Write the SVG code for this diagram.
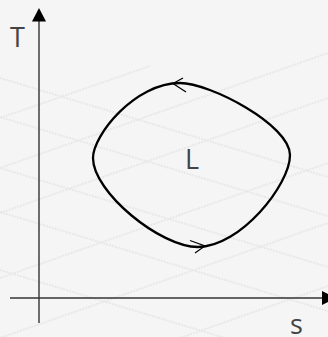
<svg xmlns="http://www.w3.org/2000/svg" width="328" height="337" viewBox="0 0 328 337">
<defs>
<style>
.bg{fill:#f5f5f5}
.grid line{stroke:#e8e8e8;stroke-width:2;stroke-dasharray:2 1}
.axis{stroke:#333;stroke-width:1.4;fill:none}
.head{fill:#000}
.loop{stroke:#000;stroke-width:2.3;fill:none}
.chev{stroke:#000;stroke-width:1.2;fill:none}
.lbl{font-family:"Open Sans","Noto Sans",sans-serif;font-size:27px;fill:#444}
</style>
</defs>
<rect class="bg" x="0" y="0" width="328" height="337"/>
<g class="grid">
<line x1="0" y1="78" x2="328" y2="177"/>
<line x1="0" y1="117" x2="328" y2="216"/>
<line x1="0" y1="168" x2="328" y2="267"/>
<line x1="0" y1="212" x2="328" y2="311"/>
<line x1="0" y1="270" x2="328" y2="369"/>
<line x1="0" y1="118" x2="150" y2="66"/>
<line x1="0" y1="168" x2="328" y2="53"/>
<line x1="0" y1="213" x2="328" y2="98"/>
<line x1="0" y1="278" x2="328" y2="163"/>
<line x1="0" y1="338" x2="328" y2="223"/>
<line x1="60" y1="380" x2="328" y2="286"/>
</g>
<g id="axes">
<line class="axis" x1="39" y1="20" x2="39" y2="323"/>
<polygon class="head" points="39,8 32,21.5 46,21.5"/>
<line class="axis" x1="10" y1="298" x2="323" y2="298"/>
<polygon class="head" points="336,298 322,291 322,305"/>
</g>
<g id="cycle">
<path class="loop" d="M93,158 C93,135 135,83 180,83 C210,83 290,125 290,155 C290,185 240,247 198,247 C160,247 93,192 93,158 Z"/>
</g>
<g id="connectors">
<polyline class="chev" points="183,78 173,83.5 186,92"/>
<polyline class="chev" points="190,240.5 205,246 195,253"/>
</g>
<g id="labels">
<text class="lbl" x="10" y="47">T</text>
<text class="lbl" x="185" y="169">L</text>
<text class="lbl" x="290" y="334">s</text>
</g>
</svg>
